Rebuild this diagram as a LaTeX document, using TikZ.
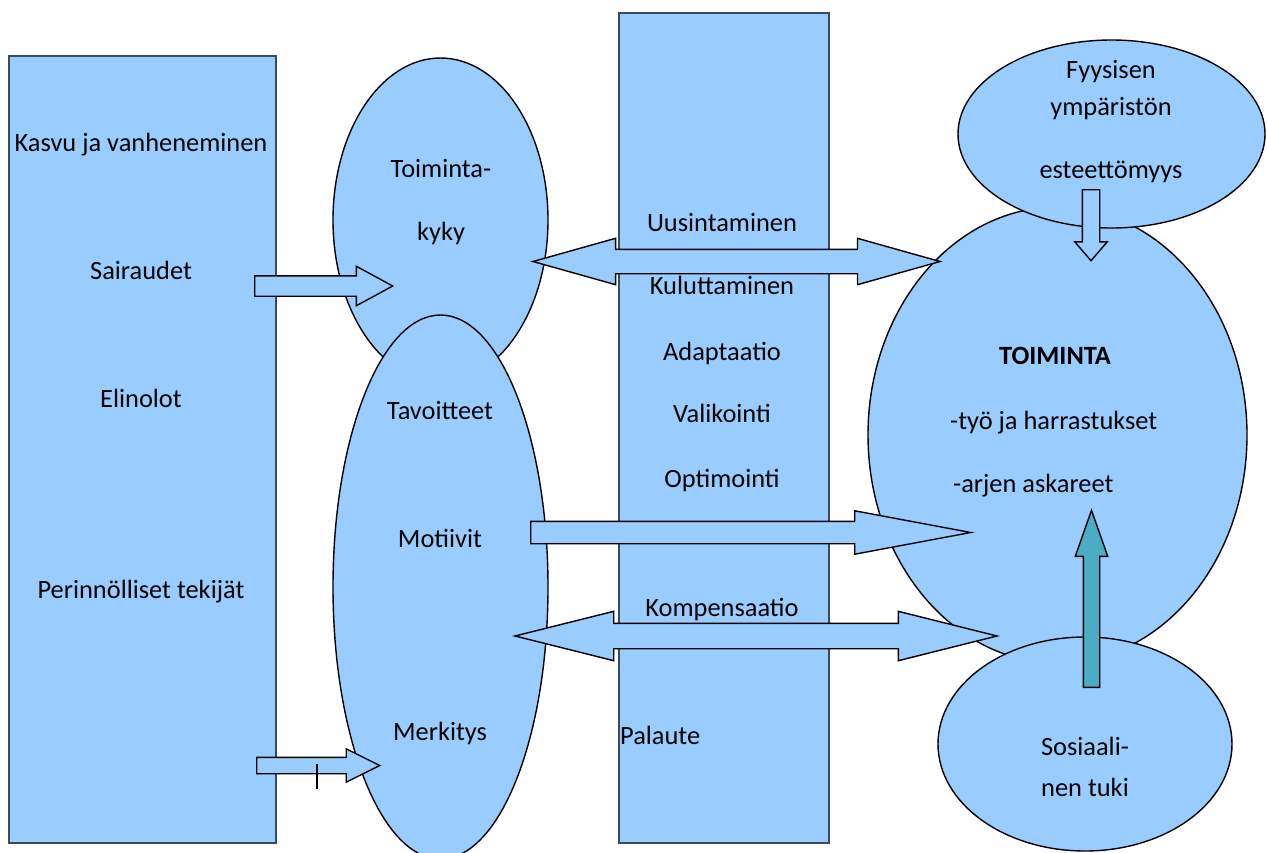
\documentclass[tikz,border=0pt]{standalone}
\usepackage{fontspec}
\setmainfont{Carlito}
\usetikzlibrary{positioning,shapes.geometric,shapes.arrows}
\definecolor{lblue}{HTML}{99CCFF}
\definecolor{tealarr}{HTML}{4BACC6}
\definecolor{rim}{HTML}{3B4B5B}

\begin{document}
\begin{tikzpicture}[x=1pt, y=-1pt, font=\fontsize{26.4}{32}\selectfont,
  col/.style={draw=rim, fill=lblue, line width=1.5pt, minimum width=#1, anchor=north west},
  ell/.style={ellipse, draw, fill=lblue, line width=1.4pt, inner sep=0pt},
  lbl/.style={anchor=base, inner sep=0pt},
  sarr/.style={single arrow, draw, fill=#1, line width=1.4pt, single arrow head indent=0pt},
  sarr/.default=lblue,
  darr/.style={double arrow, draw, fill=lblue, line width=1.4pt, double arrow head indent=0pt}]
\useasboundingbox (0,0) rectangle (1267,852);
% columns
\node[col=267pt, minimum height=787pt] (tekijat) at (8,55) {};
\node[col=210pt, minimum height=830pt] (keinot) at (618,12) {};
% ellipses
\node[ell, minimum width=215pt, minimum height=324pt] (kyky) at (440.5,220) {};
\node[ell, minimum width=215pt, minimum height=544pt] (motiv) at (440.5,587) {};
\node[ell, minimum width=379pt, minimum height=456pt] (toim) at (1057.5,435) {};
\node[ell, minimum width=307pt, minimum height=188pt] (ymp) at (1111.5,134) {};
\node[ell, minimum width=294pt, minimum height=214pt] (tuki) at (1085,744) {};
% texts
\node[lbl] (kasvu) at (141,151) {Kasvu ja vanheneminen};
\node[lbl] (sair) at (141,279) {Sairaudet};
\node[lbl] (elin) at (141,407) {Elinolot};
\node[lbl] (perin) at (141,598) {Perinnölliset tekijät};
\node[lbl] (tk1) at (441,177) {Toiminta-};
\node[lbl] (tk2) at (441,240) {kyky};
\node[lbl] (tavo) at (440,419) {Tavoitteet};
\node[lbl] (moti) at (440,547) {Motiivit};
\node[lbl] (merk) at (440,740) {Merkitys};
\node[lbl] (uusi) at (722,231) {Uusintaminen};
\node[lbl] (kulu) at (722,294) {Kuluttaminen};
\node[lbl] (adap) at (722,360) {Adaptaatio};
\node[lbl] (vali) at (722,422) {Valikointi};
\node[lbl] (opti) at (722,487) {Optimointi};
\node[lbl] (komp) at (722,616) {Kompensaatio};
\node[lbl, anchor=base west] (pal) at (620,744) {Palaute};
\node[lbl] (fy1) at (1111,78) {Fyysisen};
\node[lbl] (fy2) at (1111,115) {ympäristön};
\node[lbl] (fy3) at (1111,178) {esteettömyys};
\node[lbl, font=\fontsize{26.4}{32}\selectfont\bfseries] (toimt) at (1055,364) {TOIMINTA};
\node[lbl, anchor=base west] (tyo) at (950,429) {-työ ja harrastukset};
\node[lbl, anchor=base west] (arki) at (953,492) {-arjen askareet};
\node[lbl] (so1) at (1085,755) {Sosiaali-};
\node[lbl] (so2) at (1085,796) {nen tuki};
% block arrows
\node[sarr, minimum height=138pt, inner sep=9.5pt, single arrow head extend=9.5pt,
  single arrow tip angle=57, anchor=tail] (a1) at (254,286) {};
\node[sarr, minimum height=123pt, inner sep=7.5pt, single arrow head extend=8.5pt,
  single arrow tip angle=53, anchor=tail] (a2) at (256,765.5) {};
\draw[line width=1.6pt] ([xshift=61pt,yshift=2pt]a2.tail) -- ++(0,25);
\node[darr, minimum height=407pt, inner sep=11.5pt, double arrow head extend=11pt,
  double arrow tip angle=31.4] (a3) at (736.5,261.5) {};
\node[sarr, minimum height=440pt, inner sep=10.5pt, single arrow head extend=10.5pt,
  single arrow tip angle=21.2, anchor=tail] (a4) at (530,532.5) {};
\node[darr, minimum height=482pt, inner sep=12pt, double arrow head extend=12pt,
  double arrow tip angle=28.1] (a5) at (756,636) {};
\node[sarr=tealarr, minimum height=177pt, inner sep=7.5pt, single arrow head extend=8pt,
  single arrow tip angle=38.8, shape border rotate=90, anchor=tail] (a6) at (1091.5,688) {};
\node[sarr, minimum height=71pt, inner sep=8pt, single arrow head extend=7.5pt,
  single arrow tip angle=81.4, shape border rotate=270, anchor=tail] (a7) at (1091,189) {};
\end{tikzpicture}
\end{document}
